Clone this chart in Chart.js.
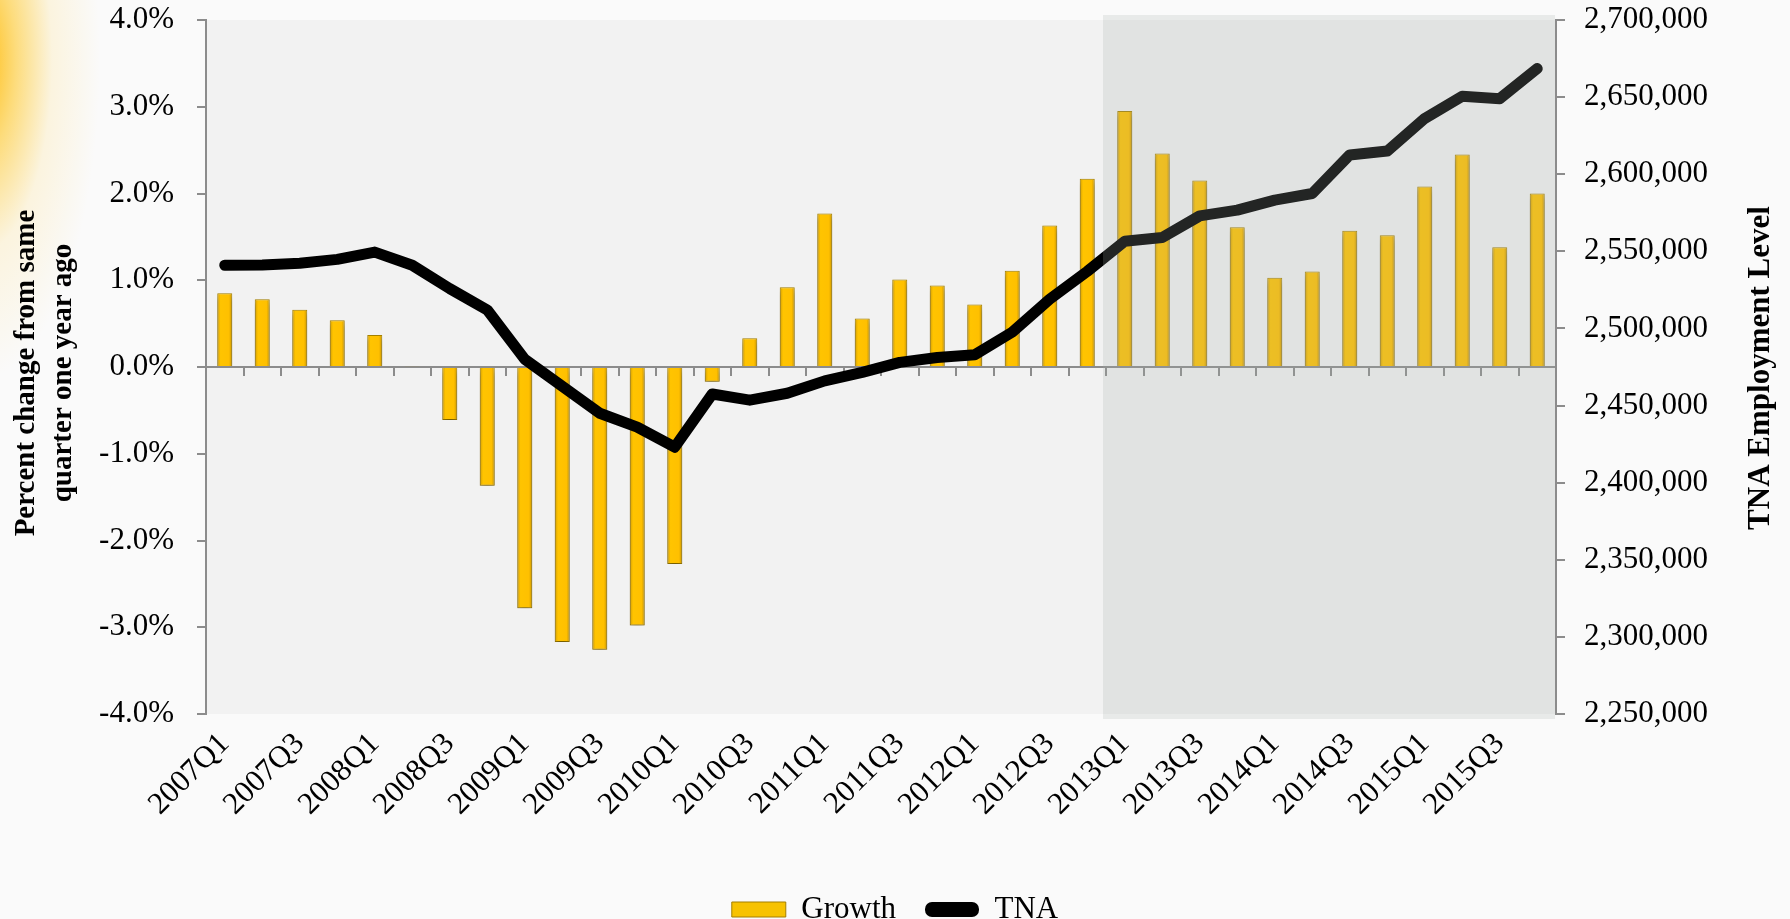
<!DOCTYPE html>
<html>
<head>
<meta charset="utf-8">
<title>TNA Employment</title>
<script src="https://cdn.jsdelivr.net/npm/chart.js@4.4.1/dist/chart.umd.min.js"></script>
<style>
	html, body { margin: 0; padding: 0; overflow: hidden; }
	body {
		width: 1790px;
		height: 919px;
		background:
			radial-gradient(ellipse 120px 320px at -20px 60px, rgba(255, 184, 0, 0.95) 0%, rgba(255, 200, 40, 0.6) 30%, rgba(255, 225, 140, 0.25) 60%, rgba(250, 250, 250, 0) 100%),
			#fafafa;
	}
	#wrap { position: relative; width: 1790px; height: 919px; }
</style>
</head>
<body>
<div id="wrap"><canvas id="grafico" width="1790" height="919"></canvas></div>
<script>
// Dados
const quarters = [
	"2007Q1", "2007Q2", "2007Q3", "2007Q4", "2008Q1", "2008Q2", "2008Q3", "2008Q4",
	"2009Q1", "2009Q2", "2009Q3", "2009Q4", "2010Q1", "2010Q2", "2010Q3", "2010Q4",
	"2011Q1", "2011Q2", "2011Q3", "2011Q4", "2012Q1", "2012Q2", "2012Q3", "2012Q4",
	"2013Q1", "2013Q2", "2013Q3", "2013Q4", "2014Q1", "2014Q2", "2014Q3", "2014Q4",
	"2015Q1", "2015Q2", "2015Q3", "2015Q4"
];

// percent change from same quarter one year ago
const growth = [
	0.85, 0.78, 0.66, 0.54, 0.37, 0.01, -0.61, -1.37,
	-2.78, -3.17, -3.26, -2.98, -2.27, -0.17, 0.33, 0.92,
	1.77, 0.56, 1.01, 0.94, 0.72, 1.11, 1.63, 2.17,
	2.95, 2.46, 2.15, 1.61, 1.03, 1.10, 1.57, 1.52,
	2.08, 2.45, 1.38, 2.00
];

// TNA employment level
const tna = [
	2541000, 2541200, 2542300, 2544800, 2549500, 2541000, 2525800, 2512000,
	2480000, 2462500, 2445000, 2436000, 2423000, 2457500, 2453500, 2458000,
	2466000, 2471500, 2478000, 2481200, 2483000, 2497600, 2519000, 2537000,
	2556500, 2559000, 2573000, 2576700, 2583200, 2587500, 2612500, 2615000,
	2636200, 2650500, 2649000, 2668500
];

const shadeFrom = "2013Q1";
const leftTitle = ["Percent change from same", "quarter one year ago"];
const rightTitle = "TNA Employment Level";

const FONT = "'Liberation Serif', 'Times New Roman', serif";
const AXIS_GRAY = "#8c8c8c";

// fundo da área do gráfico
const plotBackground = {
	id: "plotBackground",
	beforeDraw(chart) {
		const { ctx, chartArea: a } = chart;
		ctx.save();
		ctx.fillStyle = "#f2f2f2";
		ctx.fillRect(a.left, a.top, a.right - a.left, a.bottom - a.top);
		ctx.restore();
	}
};

// linha do zero com as marcas entre trimestres
const zeroAxis = {
	id: "zeroAxis",
	beforeDatasetsDraw(chart) {
		const { ctx, chartArea: a, scales } = chart;
		const y0 = Math.round(scales.y.getPixelForValue(0));
		const step = scales.x.getPixelForValue(1) - scales.x.getPixelForValue(0);
		ctx.save();
		ctx.strokeStyle = AXIS_GRAY;
		ctx.lineWidth = 2;
		ctx.beginPath();
		ctx.moveTo(a.left, y0);
		ctx.lineTo(a.right, y0);
		for (let i = 0; i <= quarters.length; i++) {
			const x = Math.round(scales.x.getPixelForValue(i) - step / 2);
			ctx.moveTo(x, y0);
			ctx.lineTo(x, y0 + 9);
		}
		ctx.stroke();
		ctx.restore();
	}
};

// sombra das barras
const barShadow = {
	id: "barShadow",
	beforeDatasetDraw(chart, args) {
		if (args.index !== 0) return;
		const ctx = chart.ctx;
		ctx.save();
		ctx.shadowColor = "rgba(0, 0, 0, 0.35)";
		ctx.shadowBlur = 6;
		ctx.shadowOffsetY = 4;
	},
	afterDatasetDraw(chart, args) {
		if (args.index !== 0) return;
		chart.ctx.restore();
	}
};

// faixa sombreada a partir de 2013
const shade = {
	id: "shade",
	afterDatasetsDraw(chart) {
		const { ctx, chartArea: a, scales } = chart;
		const step = scales.x.getPixelForValue(1) - scales.x.getPixelForValue(0);
		const x0 = scales.x.getPixelForValue(quarters.indexOf(shadeFrom)) - step / 2 - 3;
		ctx.save();
		ctx.fillStyle = "rgba(164, 174, 169, 0.21)";
		ctx.fillRect(x0, a.top - 5, a.right - 1 - x0, a.bottom - a.top + 10);
		ctx.restore();
	}
};

// títulos dos eixos (lidos de baixo para cima nos dois lados)
const axisTitles = {
	id: "axisTitles",
	afterDraw(chart) {
		const { ctx, chartArea: a } = chart;
		const midY = (a.top + a.bottom) / 2;
		ctx.save();
		ctx.fillStyle = "#000";
		ctx.textAlign = "center";
		ctx.textBaseline = "middle";
		ctx.font = "bold 29px " + FONT;
		ctx.translate(27, midY + 6);
		ctx.rotate(-Math.PI / 2);
		leftTitle.forEach((line, i) => ctx.fillText(line, 0, i * 37));
		ctx.restore();

		ctx.save();
		ctx.fillStyle = "#000";
		ctx.textAlign = "center";
		ctx.textBaseline = "middle";
		ctx.font = "bold 31px " + FONT;
		ctx.translate(1761, midY + 1);
		ctx.rotate(-Math.PI / 2);
		ctx.fillText(rightTitle, 0, 0);
		ctx.restore();
	}
};

function barFill(c) {
	const x = c.chart.scales.x;
	if (c.type !== "data" || !x) return "#ffc000";
	const cx = x.getPixelForValue(c.dataIndex);
	const w = (x.width / quarters.length) * 0.4;
	const g = c.chart.ctx.createLinearGradient(cx - w / 2, 0, cx + w / 2, 0);
	g.addColorStop(0, "#d29c00");
	g.addColorStop(0.22, "#ffc400");
	g.addColorStop(0.78, "#ffc000");
	g.addColorStop(1, "#c89500");
	return g;
}

// largura fixa dos eixos verticais, sem a folga extra do rótulo do topo
function fixVertical(width) {
	return (s) => {
		s.width = width;
		s.paddingTop = 0;
		s.paddingBottom = 0;
	};
}

const tickFont = { family: FONT, size: 31 };

new Chart(document.getElementById("grafico"), {
	data: {
		labels: quarters,
		datasets: [
			{
				type: "bar",
				label: "Growth",
				data: growth,
				yAxisID: "y",
				backgroundColor: barFill,
				borderColor: "#a88400",
				borderWidth: 1,
				barPercentage: 0.4,
				categoryPercentage: 1,
				order: 2
			},
			{
				type: "line",
				label: "TNA",
				data: tna,
				yAxisID: "y2",
				borderColor: "#000",
				backgroundColor: "#000",
				borderWidth: 11,
				borderCapStyle: "round",
				borderJoinStyle: "round",
				pointRadius: 0,
				tension: 0,
				fill: false,
				order: 1
			}
		]
	},
	options: {
		responsive: false,
		animation: false,
		devicePixelRatio: 1,
		layout: { padding: { top: 20, bottom: -16, left: 0, right: 0 } },
		plugins: {
			tooltip: { enabled: false },
			legend: {
				position: "bottom",
				labels: {
					font: tickFont,
					color: "#000",
					boxWidth: 54,
					boxHeight: 15,
					padding: 29,
					useBorderRadius: true,
					generateLabels: () => [
						{ text: "Growth", fillStyle: "#f7c200", strokeStyle: "#a37f00", lineWidth: 1, borderRadius: 0, datasetIndex: 0, fontColor: "#000" },
						{ text: "TNA", fillStyle: "#000", strokeStyle: "#000", lineWidth: 0, borderRadius: 7, datasetIndex: 1, fontColor: "#000" }
					]
				}
			}
		},
		scales: {
			x: {
				grid: { display: false },
				border: { display: false },
				ticks: {
					autoSkip: false,
					minRotation: 45,
					maxRotation: 45,
					padding: 4,
					color: "#000",
					font: tickFont,
					callback: (v, i) => (i % 2 === 0 ? quarters[i] : "")
				},
				afterFit: (s) => { s.height = 151; }
			},
			y: {
				position: "left",
				min: -4,
				max: 4,
				ticks: {
					stepSize: 1,
					padding: 23,
					color: "#000",
					font: tickFont,
					callback: (v) => v.toFixed(1) + "%"
				},
				grid: { drawOnChartArea: false, tickLength: 9, color: AXIS_GRAY, lineWidth: 2 },
				border: { color: AXIS_GRAY, width: 2 },
				afterFit: fixVertical(206)
			},
			y2: {
				position: "right",
				min: 2250000,
				max: 2700000,
				ticks: {
					stepSize: 50000,
					padding: 19,
					color: "#000",
					font: tickFont,
					callback: (v) => v.toLocaleString("en-US")
				},
				grid: { drawOnChartArea: false, tickLength: 9, color: AXIS_GRAY, lineWidth: 2 },
				border: { color: AXIS_GRAY, width: 2 },
				afterFit: fixVertical(234)
			}
		}
	},
	plugins: [plotBackground, zeroAxis, barShadow, shade, axisTitles]
});
</script>
</body>
</html>
